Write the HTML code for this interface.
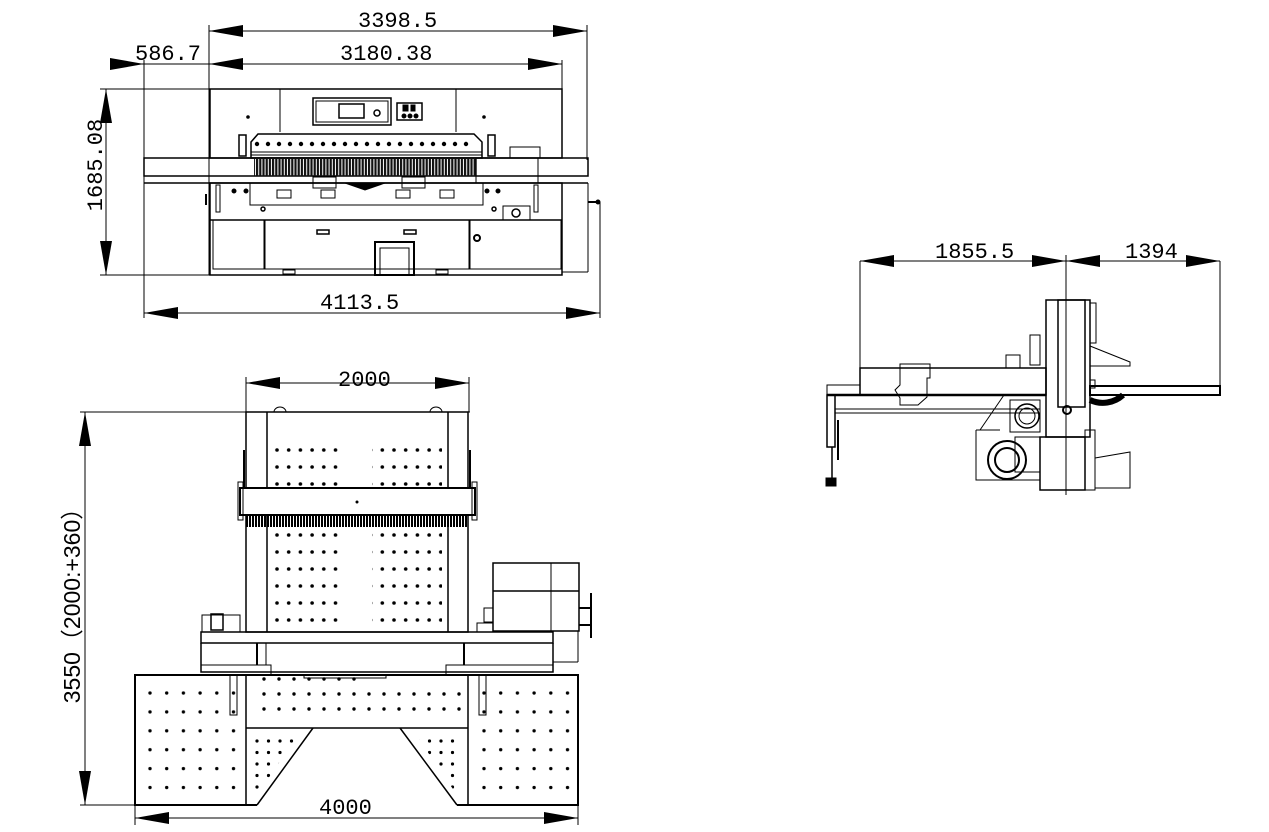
<!DOCTYPE html>
<html><head><meta charset="utf-8"><style>
html,body{margin:0;padding:0;background:#fff;}
svg{display:block;}
text{font-family:"Liberation Mono","DejaVu Sans Mono",monospace;font-size:22px;fill:#000;}
</style></head><body>
<svg width="1269" height="832" viewBox="0 0 1269 832" xmlns="http://www.w3.org/2000/svg">
<defs>
<marker id="ae" markerWidth="34" markerHeight="12" refX="34" refY="6" orient="auto" markerUnits="userSpaceOnUse"><path d="M0,0 L34,6 L0,12 z" fill="#000"/></marker>
<marker id="as" markerWidth="34" markerHeight="12" refX="0" refY="6" orient="auto" markerUnits="userSpaceOnUse"><path d="M34,0 L0,6 L34,12 z" fill="#000"/></marker>
<pattern id="dA" x="271" y="444" width="11.7" height="17" patternUnits="userSpaceOnUse"><circle cx="6" cy="6" r="1.8" fill="#000"/></pattern>
<pattern id="dB" x="143" y="686" width="16.7" height="18.9" patternUnits="userSpaceOnUse"><circle cx="7" cy="7" r="1.7" fill="#000"/></pattern>
<pattern id="dC" x="252" y="736" width="11.5" height="11.5" patternUnits="userSpaceOnUse"><circle cx="5" cy="5" r="1.6" fill="#000"/></pattern>
<pattern id="dD" x="258" y="673" width="15" height="15" patternUnits="userSpaceOnUse"><circle cx="6" cy="6" r="1.7" fill="#000"/></pattern>
<pattern id="teeth" x="0" y="0" width="3" height="10" patternUnits="userSpaceOnUse"><rect width="2" height="10" fill="#000"/></pattern>
<pattern id="teeth2" x="0" y="0" width="3.2" height="20" patternUnits="userSpaceOnUse"><rect width="2.2" height="20" fill="#111"/></pattern>
</defs>
<g fill="none" stroke="#000" stroke-width="1">
<line x1="209" y1="31" x2="587" y2="31" marker-start="url(#as)" marker-end="url(#ae)"/>
<line x1="209" y1="64" x2="562" y2="64" marker-end="url(#ae)"/>
<line x1="209" y1="64" x2="244" y2="64" marker-start="url(#as)"/>
<line x1="110" y1="64" x2="144" y2="64" marker-end="url(#ae)"/>
<line x1="144" y1="64" x2="209" y2="64"/>
<line x1="209" y1="25" x2="209" y2="275"/>
<line x1="587" y1="25" x2="587" y2="160"/>
<line x1="562" y1="60" x2="562" y2="89"/>
<line x1="144" y1="60" x2="144" y2="318"/>
<line x1="600" y1="202" x2="600" y2="318"/>
<line x1="144" y1="313" x2="600" y2="313" marker-start="url(#as)" marker-end="url(#ae)"/>
<line x1="100" y1="89" x2="210" y2="89"/>
<line x1="100" y1="275" x2="210" y2="275"/>
<line x1="106" y1="89" x2="106" y2="275" marker-start="url(#as)" marker-end="url(#ae)"/>
<rect x="210" y="89" width="352" height="69" stroke-width="1.5"/>
<line x1="280" y1="89" x2="280" y2="132"/><line x1="456" y1="89" x2="456" y2="132"/>
<rect x="313" y="98" width="78" height="27" stroke-width="1.5"/><rect x="316" y="101" width="72" height="21"/>
<rect x="339" y="104" width="25" height="14" stroke-width="1.5"/><circle cx="377" cy="113" r="3" stroke-width="1.5"/>
<rect x="397" y="103" width="25" height="17" stroke-width="1.5"/>
<circle cx="404" cy="116" r="2" fill="#000"/><circle cx="410" cy="116" r="2" fill="#000"/><circle cx="416" cy="116" r="2" fill="#000"/>
<rect x="403" y="105" width="5" height="6" fill="#000"/><rect x="411" y="105" width="4" height="6" fill="#000"/>
<circle cx="248" cy="117" r="1.3" fill="#000"/><circle cx="484" cy="117" r="1.3" fill="#000"/>
<path d="M251,142 L258,134 L474,134 L482,142 L482,158 L251,158 Z" stroke-width="1.5"/>
<line x1="251" y1="152" x2="482" y2="152"/><line x1="251" y1="155" x2="482" y2="155"/>
<g fill="#000" stroke="none">
<circle cx="257" cy="144" r="2.2"/><circle cx="268" cy="144" r="2.2"/><circle cx="279" cy="144" r="2.2"/><circle cx="290" cy="144" r="2.2"/><circle cx="301" cy="144" r="2.2"/><circle cx="312" cy="144" r="2.2"/><circle cx="323" cy="144" r="2.2"/><circle cx="334" cy="144" r="2.2"/><circle cx="345" cy="144" r="2.2"/><circle cx="356" cy="144" r="2.2"/><circle cx="367" cy="144" r="2.2"/><circle cx="378" cy="144" r="2.2"/><circle cx="389" cy="144" r="2.2"/><circle cx="400" cy="144" r="2.2"/><circle cx="411" cy="144" r="2.2"/><circle cx="422" cy="144" r="2.2"/><circle cx="433" cy="144" r="2.2"/><circle cx="444" cy="144" r="2.2"/><circle cx="455" cy="144" r="2.2"/><circle cx="466" cy="144" r="2.2"/>
</g>
<rect x="239" y="135" width="7" height="21" stroke-width="1.5"/><rect x="488" y="135" width="7" height="21" stroke-width="1.5"/>
<rect x="510" y="147" width="30" height="11"/>
<rect x="144" y="158" width="444" height="18" stroke-width="1.5"/>
<line x1="144" y1="183" x2="588" y2="183" stroke-width="1.5"/>
<rect x="254" y="158" width="223" height="18" fill="url(#teeth2)" stroke="none"/>
<line x1="476" y1="158" x2="476" y2="183"/><line x1="538" y1="158" x2="538" y2="183"/>
<rect x="250" y="183" width="233" height="22"/>
<rect x="210" y="183" width="352" height="92" stroke-width="1.5"/>
<rect x="313" y="177" width="23" height="11"/><rect x="402" y="177" width="23" height="11"/>
<rect x="277" y="190" width="14" height="8"/><rect x="321" y="190" width="14" height="8"/><rect x="396" y="190" width="14" height="8"/><rect x="440" y="190" width="14" height="8"/>
<path d="M345,183 L365,190 L385,183" fill="#000"/>
<circle cx="234" cy="191" r="2" fill="#000"/><circle cx="246" cy="191" r="2" fill="#000"/><circle cx="487" cy="191" r="2" fill="#000"/><circle cx="498" cy="191" r="2" fill="#000"/>
<rect x="216" y="185" width="4" height="27"/><rect x="534" y="185" width="4" height="27"/>
<rect x="503" y="206" width="27" height="14"/><circle cx="516" cy="213" r="4" stroke-width="1.5"/>
<circle cx="263" cy="209" r="2" stroke-width="1.5"/><circle cx="494" cy="209" r="2" stroke-width="1.5"/>
<line x1="210" y1="220" x2="562" y2="220" stroke-width="1.5"/>
<rect x="213" y="220" width="51" height="49"/><rect x="265" y="220" width="204" height="49"/><rect x="470" y="220" width="91" height="49"/>
<rect x="317" y="230" width="12" height="4" stroke-width="1.5"/><rect x="404" y="230" width="12" height="4" stroke-width="1.5"/>
<circle cx="477" cy="238" r="3" stroke-width="2"/>
<rect x="375" y="242" width="39" height="33" stroke-width="2"/><rect x="380" y="248" width="29" height="27"/>
<rect x="283" y="270" width="12" height="4"/><rect x="436" y="270" width="12" height="4"/>
<line x1="588" y1="202" x2="598" y2="202" stroke-width="2"/><circle cx="598" cy="202" r="2" fill="#000"/>
<line x1="562" y1="183" x2="588" y2="183"/><line x1="588" y1="183" x2="588" y2="272"/><line x1="562" y1="272" x2="588" y2="272"/>
<line x1="206" y1="194" x2="206" y2="205" stroke-width="2"/>

<line x1="246" y1="383" x2="469" y2="383" marker-start="url(#as)" marker-end="url(#ae)"/>
<line x1="246" y1="377" x2="246" y2="412"/><line x1="469" y1="377" x2="469" y2="412"/>
<line x1="80" y1="412" x2="470" y2="412"/>
<line x1="80" y1="805" x2="135" y2="805"/>
<line x1="85" y1="412" x2="85" y2="805" marker-start="url(#as)" marker-end="url(#ae)"/>
<line x1="135" y1="818" x2="578" y2="818" marker-start="url(#as)" marker-end="url(#ae)"/>
<line x1="135" y1="805" x2="135" y2="825"/><line x1="578" y1="805" x2="578" y2="825"/>
<rect x="246" y="412" width="222" height="220" stroke-width="1.5"/>
<line x1="267" y1="412" x2="267" y2="488" stroke-width="1.5"/><line x1="448" y1="412" x2="448" y2="488" stroke-width="1.5"/>
<line x1="267" y1="515" x2="267" y2="632" stroke-width="1.5"/><line x1="448" y1="515" x2="448" y2="632" stroke-width="1.5"/>
<path d="M274,412 a6,5 0 0 1 12,0 M430,412 a6,5 0 0 1 12,0"/>
<rect x="271" y="444" width="70" height="51" fill="url(#dA)" stroke="none"/>
<rect x="372" y="444" width="70" height="51" fill="url(#dA)" stroke="none"/>
<rect x="271" y="529" width="70" height="102" fill="url(#dA)" stroke="none"/>
<rect x="372" y="529" width="70" height="102" fill="url(#dA)" stroke="none"/>
<rect x="240" y="488" width="235" height="27" fill="#fff" stroke-width="2"/>
<rect x="238" y="482" width="5" height="38"/><rect x="472" y="482" width="5" height="38"/>
<circle cx="357" cy="502" r="1" fill="#000"/>
<rect x="246" y="516" width="222" height="11" fill="url(#teeth)" stroke="none"/>
<line x1="244" y1="450" x2="244" y2="488" stroke-width="2"/><line x1="470" y1="450" x2="470" y2="488" stroke-width="2"/>
<rect x="493" y="563" width="86" height="68" stroke-width="1.5"/>
<line x1="493" y1="591" x2="579" y2="591" stroke-width="1.5"/><line x1="551" y1="563" x2="551" y2="631"/>
<line x1="579" y1="608" x2="590" y2="608" stroke-width="2"/><line x1="579" y1="625" x2="590" y2="625" stroke-width="2"/><line x1="591" y1="593" x2="591" y2="638" stroke-width="2"/>
<rect x="484" y="608" width="9" height="14"/><rect x="477" y="623" width="16" height="9"/>
<rect x="202" y="615" width="38" height="17"/><rect x="211" y="614" width="12" height="16" stroke-width="1.5"/>
<rect x="201" y="632" width="352" height="11" stroke-width="1.5"/>
<path d="M201,643 L201,672 L553,672 L553,643" stroke-width="1.5"/>
<path d="M266,643 L266,665 L271,665 L271,675 L446,675 L446,665 L553,665 M201,665 L266,665"/>
<line x1="257" y1="643" x2="257" y2="665" stroke-width="2"/><line x1="464" y1="643" x2="464" y2="665" stroke-width="2"/>
<line x1="553" y1="662" x2="578" y2="662"/><line x1="578" y1="631" x2="578" y2="662"/>
<rect x="304" y="675" width="82" height="3"/>
<path d="M257,805 L135,805 L135,675 L578,675 L578,805 L457,805" stroke-width="2"/>
<line x1="246" y1="675" x2="246" y2="805" stroke-width="1.5"/><line x1="468" y1="675" x2="468" y2="805" stroke-width="1.5"/>
<line x1="246" y1="728" x2="468" y2="728" stroke-width="1.5"/>
<path d="M257,805 L313,728 M400,728 L457,805" stroke-width="1.5"/>
<rect x="230" y="675" width="7" height="40"/><rect x="479" y="675" width="7" height="40"/>
<rect x="143" y="686" width="97" height="112" fill="url(#dB)" stroke="none"/>
<rect x="480" y="686" width="98" height="112" fill="url(#dB)" stroke="none"/>
<rect x="258" y="673" width="105" height="44" fill="url(#dD)" stroke="none"/>
<rect x="365" y="686" width="100" height="31" fill="url(#dD)" stroke="none"/>
<path d="M252,732 L300,732 L257,795 L252,795 Z" fill="url(#dC)" stroke="none"/>
<path d="M414,732 L462,732 L462,795 L457,795 Z" fill="url(#dC)" stroke="none"/>

<line x1="860" y1="261" x2="1066" y2="261" marker-start="url(#as)" marker-end="url(#ae)"/>
<line x1="1066" y1="261" x2="1220" y2="261" marker-start="url(#as)" marker-end="url(#ae)"/>
<line x1="860" y1="261" x2="860" y2="368"/><line x1="1220" y1="261" x2="1220" y2="385"/>
<line x1="1066" y1="255" x2="1066" y2="495"/>
<rect x="1046" y="300" width="44" height="137" stroke-width="1.5"/>
<rect x="1058" y="300" width="27" height="107" stroke-width="1.5"/>
<rect x="1090" y="303" width="6" height="40"/><rect x="1090" y="380" width="5" height="8"/>
<path d="M1090,346 L1130,362 L1130,366 L1090,366" />
<rect x="1090" y="386" width="130" height="9" stroke-width="2"/>
<path d="M1090,400 A30,30 0 0 0 1123,395" stroke-width="6"/>
<circle cx="1067" cy="410" r="4" stroke-width="2"/>
<rect x="860" y="368" width="186" height="27" stroke-width="1.5"/>
<path d="M900,368 L900,364 L930,364 L930,378 L927,378 L927,397 L918,405 L900,405 L900,398 L895,390 L900,385 Z"/>
<rect x="1006" y="355" width="14" height="13"/><rect x="1030" y="335" width="10" height="30"/>
<line x1="827" y1="395" x2="1046" y2="395" stroke-width="2.5"/>
<line x1="835" y1="413" x2="1040" y2="413"/><line x1="835" y1="409" x2="1040" y2="409"/>
<rect x="827" y="385" width="33" height="10"/>
<rect x="827" y="395" width="8" height="52" stroke-width="1.5"/>
<line x1="832" y1="447" x2="832" y2="480" stroke-width="1.5"/>
<rect x="826" y="478" width="10" height="8" fill="#000"/>
<line x1="838" y1="420" x2="838" y2="460" stroke-width="2"/>
<rect x="1010" y="400" width="30" height="32"/>
<circle cx="1027" cy="416" r="12" stroke-width="1.5"/><circle cx="1027" cy="416" r="8"/>
<path d="M976,430 L976,480 L1040,480 M976,430 L1000,430"/>
<circle cx="1007" cy="460" r="19" stroke-width="2"/><circle cx="1007" cy="460" r="12" stroke-width="2"/>
<rect x="1015" y="437" width="25" height="35"/>
<rect x="1040" y="437" width="45" height="53" stroke-width="1.5"/>
<rect x="1085" y="430" width="10" height="60"/>
<path d="M1095,458 L1130,452 L1130,488 L1095,488"/>
<path d="M1004,395 L980,430" />
</g>
<text x="358" y="27">3398.5</text>
<text x="340" y="60">3180.38</text>
<text x="135" y="60">586.7</text>
<text x="320" y="309">4113.5</text>
<text transform="translate(102,165) rotate(-90)" text-anchor="middle">1685.08</text>
<text x="338" y="386">2000</text>
<text x="319" y="814">4000</text>
<text transform="translate(80,600) rotate(-90)" text-anchor="middle" style="font-family:'Liberation Sans','Noto Sans CJK SC',sans-serif;font-size:23px">3550（2000:+360）</text>
<text x="935" y="258">1855.5</text>
<text x="1125" y="258">1394</text>
</svg>
</body></html>
